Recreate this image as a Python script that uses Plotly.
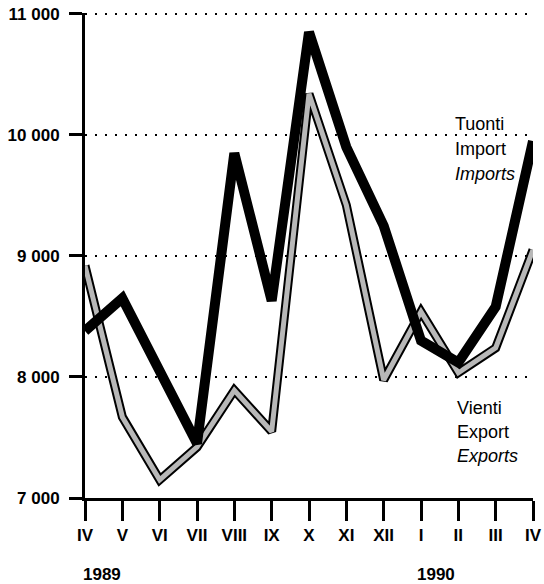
import plotly.graph_objects as go

months = ["IV", "V", "VI", "VII", "VIII", "IX", "X", "XI", "XII", "I", "II", "III", "IV"]
imports = [8380, 8650, 8050, 7450, 9850, 8630, 10850, 9900, 9250, 8300, 8120, 8580, 9950]
exports = [8920, 7670, 7150, 7420, 7890, 7550, 10340, 9420, 7975, 8540, 8035, 8240, 9050]
ytick_vals = [7000, 8000, 9000, 10000, 11000]
ytick_text = ["7 000", "8 000", "9 000", "10 000", "11 000"]
years = ["1989", "1990"]

xs = list(range(len(months)))
FONT = "Liberation Sans, Arial, sans-serif"

fig = go.Figure()
# exports: black outline + grey stippled core
fig.add_trace(go.Scatter(x=xs, y=exports, mode="lines",
                         line=dict(color="black", width=9), hoverinfo="skip"))
fig.add_trace(go.Scatter(x=xs, y=exports, mode="lines",
                         line=dict(color="#b8b8b8", width=5), hoverinfo="skip"))
# imports: thick black
fig.add_trace(go.Scatter(x=xs, y=imports, mode="lines",
                         line=dict(color="black", width=10), hoverinfo="skip"))

fig.update_layout(
    width=544, height=584,
    margin=dict(l=85, r=11, t=13, b=86, autoexpand=False),
    paper_bgcolor="white", plot_bgcolor="white",
    showlegend=False,
    font=dict(family=FONT, color="black"),
)

fig.update_xaxes(
    range=[0, 12], tickvals=xs, ticktext=months, automargin=False,
    showline=True, linecolor="black", linewidth=3,
    ticks="outside", ticklen=20, tickwidth=3, tickcolor="black",
    showgrid=False, zeroline=False,
    tickfont=dict(family=FONT, size=17, color="black", weight="bold"),
)
fig.update_yaxes(
    range=[7000, 11008], tickvals=ytick_vals, ticktext=ytick_text, automargin=False,
    showline=True, linecolor="black", linewidth=3,
    ticks="outside", ticklen=13, tickwidth=3, tickcolor="black",
    showgrid=True, gridcolor="black", gridwidth=2, griddash="2px,8px",
    zeroline=False, ticklabelstandoff=6,
    tickfont=dict(family=FONT, size=17, color="black", weight="bold"),
)

# top gridline (plotly omits the grid line at the range edge)
fig.add_shape(type="line", xref="paper", yref="y", x0=0, x1=1,
              y0=ytick_vals[-1], y1=ytick_vals[-1],
              line=dict(color="black", width=2, dash="2px,8px"), layer="below")

ann_font = dict(family=FONT, size=18, color="black")
labels_imp = ["Tuonti", "Import", "<i>Imports</i>"]
labels_exp = ["Vienti", "Export", "<i>Exports</i>"]
for i, t in enumerate(labels_imp):
    fig.add_annotation(x=9.86, y=10090 - i * 207, xref="x", yref="y", text=t,
                       showarrow=False, xanchor="left", yanchor="middle", font=ann_font)
for i, t in enumerate(labels_exp):
    fig.add_annotation(x=9.91, y=7745 - i * 200, xref="x", yref="y", text=t,
                       showarrow=False, xanchor="left", yanchor="middle", font=ann_font)

for t, xc in zip(years, [0.46, 9.4]):
    fig.add_annotation(x=xc, y=-0.157, xref="x", yref="paper", text=t,
                       showarrow=False, xanchor="center", yanchor="middle",
                       font=dict(family=FONT, size=17, color="black", weight="bold"))

fig.write_html("out.html", config={"displayModeBar": False},
               post_script="document.body.style.margin='0';document.body.style.overflow='hidden';")
